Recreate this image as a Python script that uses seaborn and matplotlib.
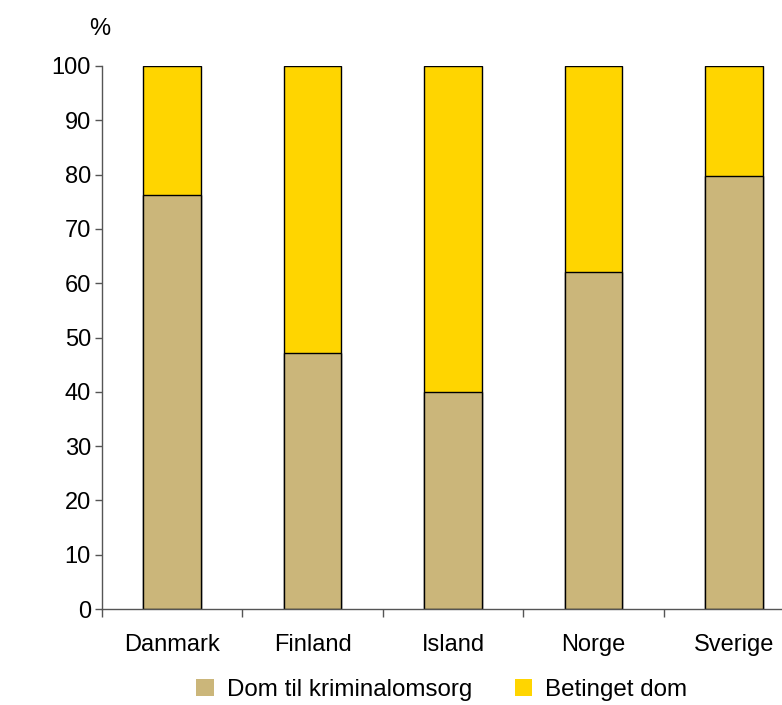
import matplotlib
matplotlib.use("Agg")
import matplotlib.pyplot as plt
import seaborn as sns
import pandas as pd
from matplotlib.patches import Patch

countries = ["Danmark", "Finland", "Island", "Norge", "Sverige"]
dom_kriminalomsorg = [76.2, 47.2, 39.9, 62.1, 79.8]
betinget_dom = [23.8, 52.8, 60.1, 37.9, 20.2]
series_names = ["Dom til kriminalomsorg", "Betinget dom"]
y_ticks = [0, 10, 20, 30, 40, 50, 60, 70, 80, 90, 100]

TAN = "#CBB67A"
YELLOW = "#FFD500"

sns.set_theme(style="white")
plt.rcParams["font.family"] = ["Liberation Sans", "DejaVu Sans"]
plt.rcParams["text.color"] = "black"
plt.rcParams["xtick.color"] = "black"
plt.rcParams["ytick.color"] = "black"

FS = 17

df = pd.DataFrame({
    "land": countries,
    "dom": dom_kriminalomsorg,
    "total": [a + b for a, b in zip(dom_kriminalomsorg, betinget_dom)],
})

fig = plt.figure(figsize=(7.82, 7.05), dpi=100)
ax = fig.add_axes([102 / 782, 96 / 705, 702 / 782, 543 / 705])

sns.barplot(data=df, x="land", y="total", color=YELLOW, saturation=1,
            width=0.41, edgecolor="black", linewidth=1, ax=ax)
sns.barplot(data=df, x="land", y="dom", color=TAN, saturation=1,
            width=0.41, edgecolor="black", linewidth=1, ax=ax)

ax.set_ylim(0, 100)
ax.set_xlim(-0.5, len(countries) - 0.5)
ax.set_yticks(y_ticks)
ax.set_yticklabels([str(t) for t in y_ticks], fontsize=FS, color="black")
ax.set_xlabel("")
ax.set_ylabel("")

# category boundary ticks
ax.set_xticks([i - 0.5 for i in range(len(countries) + 1)], minor=False)
ax.set_xticklabels([""] * (len(countries) + 1))
ax.set_xticks(range(len(countries)), minor=True)
ax.set_xticklabels(countries, minor=True, fontsize=FS, color="black")
ax.tick_params(axis="x", which="major", direction="out", length=6, width=1,
               color="#555555", bottom=True)
ax.tick_params(axis="x", which="minor", length=0, pad=18)
ax.tick_params(axis="y", direction="out", length=5, width=1, color="#555555",
               left=True, pad=3)

for s in ["top", "right"]:
    ax.spines[s].set_visible(False)
for s in ["left", "bottom"]:
    ax.spines[s].set_color("#555555")
    ax.spines[s].set_linewidth(1)

fig.text(100 / 782, 1 - 29 / 705, "%", fontsize=FS, ha="center", va="center")

handles = [Patch(facecolor=TAN, edgecolor="none"),
           Patch(facecolor=YELLOW, edgecolor="none")]
fig.legend(handles, series_names, loc="center", bbox_to_anchor=(442 / 782, 1 - 690 / 705),
           ncol=2, frameon=False, prop={"size": 17.4}, handlelength=0.72, handleheight=0.72,
           columnspacing=1.75, handletextpad=0.55)

fig.savefig("out.png", dpi=100)
